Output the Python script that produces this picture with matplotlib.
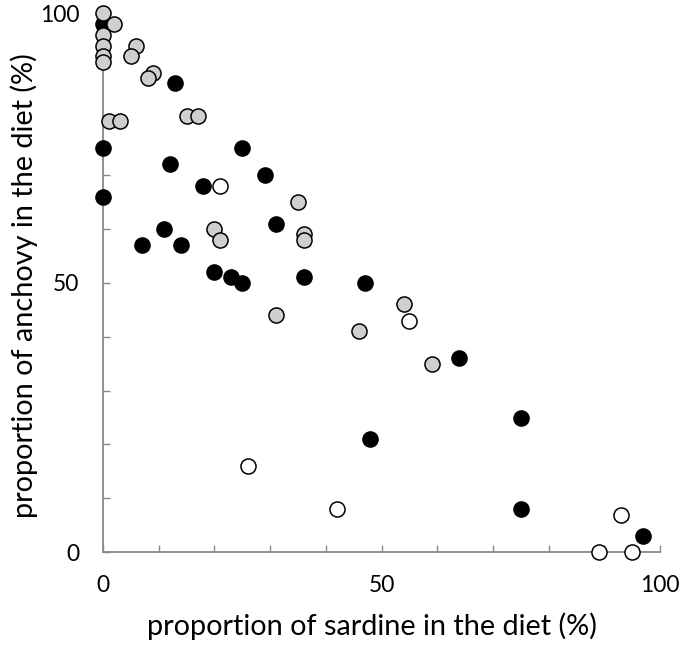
import numpy as np
import matplotlib
matplotlib.use("Agg")
import matplotlib.pyplot as plt

plt.rcParams['font.family'] = ['Lato', 'DejaVu Sans']

# black-filled points (sardine %, anchovy %)
black_x = [0, 0, 0, 13, 12, 25, 29, 18, 31, 11, 7, 14, 20, 23, 25, 36, 47, 64, 75, 48, 75, 97]
black_y = [98, 75, 66, 87, 72, 75, 70, 68, 61, 60, 57, 57, 52, 51, 50, 51, 50, 36, 25, 21, 8, 3]

# grey-filled points
grey_x = [0, 2, 0, 0, 0, 0, 6, 5, 9, 8, 1, 3, 15, 17, 35, 20, 21, 36, 36, 31, 54, 46, 59]
grey_y = [100, 98, 96, 94, 92, 91, 94, 92, 89, 88, 80, 80, 81, 81, 65, 60, 58, 59, 58, 44, 46, 41, 35]

# open points
open_x = [21, 55, 26, 42, 93, 89, 95]
open_y = [68, 43, 16, 8, 7, 0, 0]

fig = plt.figure(figsize=(6.85, 6.49), dpi=100)
ax = fig.add_axes([103 / 685, 1 - 552.3 / 649, 557 / 685, 539 / 649])

mk = dict(s=118, edgecolors="black", linewidths=1.1, clip_on=False, zorder=3)
ax.scatter(black_x, black_y, c="black", **mk)
ax.scatter(grey_x, grey_y, c="#cfcfcf", **mk)
ax.scatter(open_x, open_y, c="white", **mk)

ax.set_xlim(0, 100)
ax.set_ylim(0, 100)
for s in ["top", "right"]:
    ax.spines[s].set_visible(False)
for s in ["left", "bottom"]:
    ax.spines[s].set_color("#888888")
    ax.spines[s].set_linewidth(1.3)

ticks = np.arange(0, 101, 10)
labels = [str(t) if t in (0, 50, 100) else "" for t in ticks]
ax.set_xticks(ticks)
ax.set_xticklabels(labels)
ax.set_yticks(ticks)
ax.set_yticklabels(labels)
ax.tick_params(axis="both", direction="in", length=5, width=1.0, color="#888888",
               labelsize=16.5, labelcolor="black")
ax.tick_params(axis="x", pad=16)
ax.tick_params(axis="y", pad=17)

fig.text(372 / 685, 1 - 626 / 649, "proportion of sardine in the diet (%)",
         ha="center", va="center", fontsize=20.8)
fig.text(24 / 685, 1 - 286 / 649, "proportion of anchovy in the diet (%)",
         ha="center", va="center", rotation=90, fontsize=20.8)

fig.savefig("out.png", dpi=100)
